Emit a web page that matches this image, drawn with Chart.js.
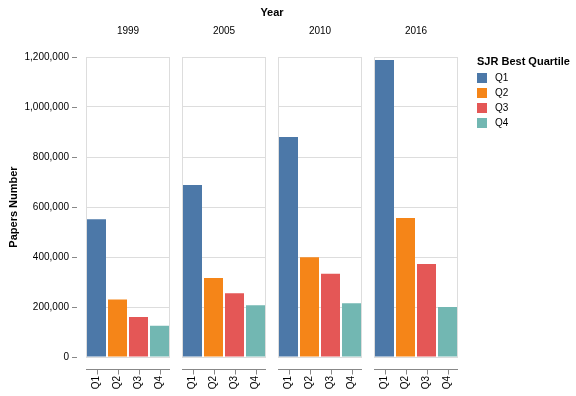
<!DOCTYPE html>
<html>
<head>
<meta charset="utf-8">
<script src="https://cdn.jsdelivr.net/npm/chart.js@4.4.0/dist/chart.umd.min.js"></script>
<style>
  body { margin: 0; background: #fff; font-family: "Liberation Sans", Arial, sans-serif; }
  #wrap { position: relative; width: 576px; height: 396px; overflow: hidden; }
  #wrap canvas { position: absolute; left: 0; top: 0; }
  .txt { position: absolute; white-space: nowrap; color: #000; }
  .hdr { font-size: 10px; transform: translate(-50%, -50%); }
  .bold { font-weight: bold; font-size: 11px; }
  .sw { position: absolute; width: 10px; height: 10px; }
</style>
</head>
<body>
<div id="wrap">
  <div class="txt bold hdr" style="left:272px; top:12px;">Year</div>
  <div id="headers"></div>
  <div id="legend"></div>
</div>
<script>
// data
const years = ["1999", "2005", "2010", "2016"];
const quartiles = ["Q1", "Q2", "Q3", "Q4"];
const q1Values = [551000, 688000, 880000, 1188000];
const q2Values = [230000, 316000, 399000, 556000];
const q3Values = [160000, 255000, 333000, 372000];
const q4Values = [125000, 207000, 215000, 200000];
const yTicks = [0, 200000, 400000, 600000, 800000, 1000000, 1200000];

const colors = ["#4c78a8", "#f58518", "#e45756", "#72b7b2"];
const FONT = "Liberation Sans, Arial, sans-serif";

const wrap = document.getElementById("wrap");

// panel geometry (Vega-style facets)
const firstLeft = 86;
const panelW = 84;
const panelGap = 12;
const panelTop = 57;
const panelBottom = 357;

// frame, x domain line and ticks, y tick marks
const panelFrame = {
  id: "panelFrame",
  beforeDatasetsDraw(chart) {
    const a = chart.chartArea;
    const ctx = chart.ctx;
    ctx.save();
    ctx.strokeStyle = "#ddd";
    ctx.lineWidth = 1;
    ctx.strokeRect(a.left + 0.5, a.top + 0.5, a.right - a.left - 1, a.bottom - a.top);
    ctx.restore();
  },
  afterDraw(chart, args, opts) {
    const a = chart.chartArea;
    const ctx = chart.ctx;
    const xs = chart.scales.x;
    ctx.save();
    ctx.strokeStyle = "#888";
    ctx.lineWidth = 1;
    const yd = a.bottom + 12.5;
    ctx.beginPath();
    ctx.moveTo(a.left, yd);
    ctx.lineTo(a.right, yd);
    xs.ticks.forEach((t, i) => {
      const px = Math.round(xs.getPixelForTick(i)) + 0.5;
      ctx.moveTo(px, yd);
      ctx.lineTo(px, yd + 5);
    });
    if (opts.yTicks) {
      const ys = chart.scales.y;
      ys.ticks.forEach((t) => {
        const py = Math.round(ys.getPixelForValue(t.value)) + 0.5;
        ctx.moveTo(a.left - 14, py);
        ctx.lineTo(a.left - 9, py);
      });
    }
    ctx.stroke();
    ctx.restore();
  },
};

years.forEach((year, i) => {
  const left = firstLeft + i * (panelW + panelGap);
  const first = i === 0;

  const h = document.createElement("div");
  h.className = "txt hdr";
  h.style.left = (left + panelW / 2) + "px";
  h.style.top = "30px";
  h.textContent = year;
  document.getElementById("headers").appendChild(h);

  const cv = document.createElement("canvas");
  cv.width = 576;
  cv.height = 396;
  cv.style.width = "576px";
  cv.style.height = "396px";
  wrap.insertBefore(cv, wrap.firstChild);

  new Chart(cv, {
    type: "bar",
    data: {
      labels: quartiles,
      datasets: [
        {
          data: [q1Values[i], q2Values[i], q3Values[i], q4Values[i]],
          backgroundColor: colors,
          borderWidth: 0,
          categoryPercentage: 1,
          barPercentage: 19 / 21,
        },
      ],
    },
    options: {
      responsive: false,
      animation: false,
      devicePixelRatio: 1,
      layout: {
        padding: {
          left: first ? 0 : left,
          right: 576 - left - panelW,
          top: panelTop,
          bottom: 0,
        },
      },
      plugins: {
        legend: { display: false },
        tooltip: { enabled: false },
        panelFrame: { yTicks: first },
      },
      scales: {
        x: {
          offset: true,
          grid: { display: false, drawTicks: false },
          border: { display: false },
          ticks: {
            color: "#000",
            font: { family: FONT, size: 10 },
            minRotation: 90,
            maxRotation: 90,
            padding: 19,
          },
          afterFit: (s) => {
            s.height = 396 - panelBottom;
          },
        },
        y: {
          min: 0,
          max: 1200000,
          afterBuildTicks: (s) => {
            s.ticks = yTicks.map((v) => ({ value: v }));
          },
          grid: { color: "#ddd", drawTicks: false },
          border: { display: false },
          ticks: {
            display: first,
            color: "#000",
            font: { family: FONT, size: 10 },
            padding: 17,
            callback: (v) => v.toLocaleString("en-US"),
          },
          title: {
            display: first,
            text: "Papers Number",
            color: "#000",
            font: { family: FONT, size: 11, weight: "bold" },
            padding: { top: 7, bottom: 0 },
          },
          afterFit: (s) => {
            s.width = first ? firstLeft : 0;
          },
        },
      },
    },
    plugins: [panelFrame],
  });
});

// legend
const legend = document.getElementById("legend");
const lt = document.createElement("div");
lt.className = "txt bold";
lt.style.left = "477px";
lt.style.top = "55px";
lt.textContent = "SJR Best Quartile";
legend.appendChild(lt);
quartiles.forEach((q, i) => {
  const sw = document.createElement("div");
  sw.className = "sw";
  sw.style.left = "477px";
  sw.style.top = (73 + i * 15) + "px";
  sw.style.background = colors[i];
  legend.appendChild(sw);
  const lb = document.createElement("div");
  lb.className = "txt";
  lb.style.fontSize = "10px";
  lb.style.left = "495px";
  lb.style.top = (72 + i * 15) + "px";
  lb.textContent = q;
  legend.appendChild(lb);
});
</script>
</body>
</html>
